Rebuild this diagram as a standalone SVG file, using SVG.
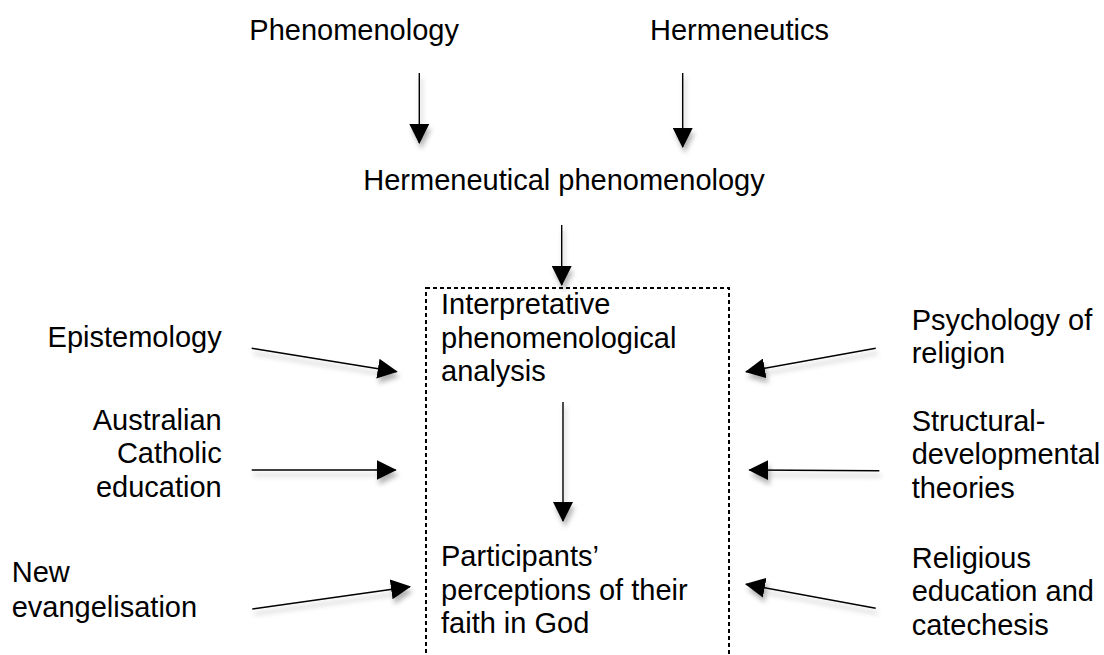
<svg xmlns="http://www.w3.org/2000/svg" width="1104" height="655" viewBox="0 0 1104 655">
<style>
text{font-family:"Liberation Sans",Arial,Helvetica,sans-serif;font-size:29px;fill:#000}
.c line{stroke:#000;stroke-width:1.4;fill:none}
.r{text-anchor:end}
</style>
<defs>
<marker id="ah" viewBox="0 0 20 20" refX="19" refY="10" markerWidth="20" markerHeight="20" markerUnits="userSpaceOnUse" orient="auto">
<path d="M0,0 L20,10 L0,20 Z" fill="#000"/>
</marker>
<filter id="sh" x="-20%" y="-20%" width="140%" height="140%">
<feDropShadow dx="2" dy="5" stdDeviation="2.5" flood-color="#000" flood-opacity="0.3"/>
</filter>
</defs>
<rect width="1104" height="655" fill="#fff"/>
<g id="box">
<rect x="426" y="288" width="303" height="380" fill="none" stroke="#000" stroke-width="2" stroke-dasharray="4,3"/>
</g>
<g id="connectors" class="c" filter="url(#sh)">
<line x1="419.3" y1="73" x2="419.3" y2="143" marker-end="url(#ah)"/>
<line x1="682.7" y1="73" x2="682.7" y2="147" marker-end="url(#ah)"/>
<line x1="561.7" y1="225" x2="561.7" y2="285" marker-end="url(#ah)"/>
<line x1="563" y1="402" x2="563" y2="521" marker-end="url(#ah)"/>
<line x1="251.7" y1="348.3" x2="396.7" y2="371.7" marker-end="url(#ah)"/>
<line x1="251.7" y1="470" x2="395.7" y2="470" marker-end="url(#ah)"/>
<line x1="252.3" y1="609" x2="410" y2="586.7" marker-end="url(#ah)"/>
<line x1="875.7" y1="348.3" x2="746" y2="371.7" marker-end="url(#ah)"/>
<line x1="879.3" y1="470.7" x2="749.3" y2="470" marker-end="url(#ah)"/>
<line x1="875.7" y1="608.3" x2="746" y2="584.3" marker-end="url(#ah)"/>
</g>
<g id="phenomenology"><text x="249.3" y="40">Phenomenology</text></g>
<g id="hermeneutics"><text x="650" y="40">Hermeneutics</text></g>
<g id="hermeneutical-phenomenology"><text x="363.3" y="190">Hermeneutical phenomenology</text></g>
<g id="ipa"><text x="441" y="314.3">Interpretative</text><text x="441" y="348">phenomenological</text><text x="441" y="381.3">analysis</text></g>
<g id="participants"><text x="441" y="566">Participants’</text><text x="441" y="599.7">perceptions of their</text><text x="441" y="633.3">faith in God</text></g>
<g id="epistemology"><text class="r" x="221.7" y="346.7">Epistemology</text></g>
<g id="australian-catholic-education"><text class="r" x="221.7" y="430">Australian</text><text class="r" x="221.7" y="463.3">Catholic</text><text class="r" x="221.7" y="496.7">education</text></g>
<g id="new-evangelisation"><text x="11.7" y="581.5">New</text><text x="11.7" y="616.5">evangelisation</text></g>
<g id="psychology-of-religion"><text x="911.7" y="330">Psychology of</text><text x="911.7" y="363.3">religion</text></g>
<g id="structural-developmental"><text x="911.7" y="431">Structural-</text><text x="911.7" y="464.3">developmental</text><text x="911.7" y="497.5">theories</text></g>
<g id="religious-education"><text x="911.7" y="567.5">Religious</text><text x="911.7" y="601">education and</text><text x="911.7" y="634.5">catechesis</text></g>
</svg>
